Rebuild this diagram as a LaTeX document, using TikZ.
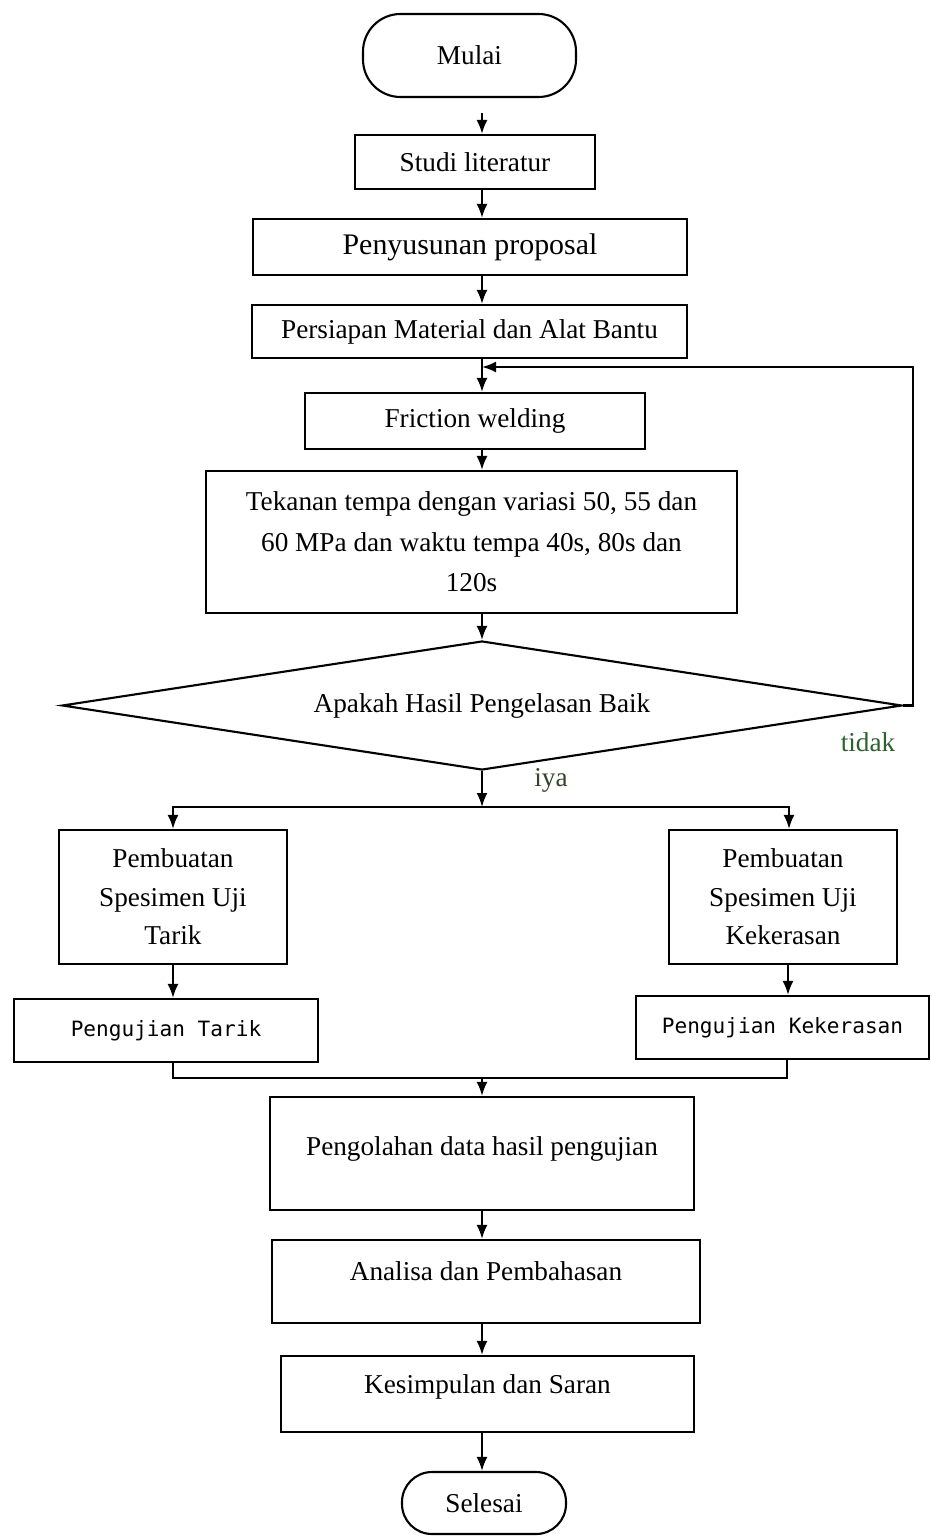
\documentclass[tikz,border=0pt]{standalone}
\usepackage{fontspec}
\setmainfont{Liberation Serif}
\newfontfamily\monofont{DejaVu Sans Mono}
\usetikzlibrary{arrows.meta, shapes.geometric}

\definecolor{hijautua}{rgb}{0.18,0.38,0.18}
\definecolor{hijaugelap}{rgb}{0.2,0.27,0.15}

\begin{document}
\begin{tikzpicture}[
  kotak/.style={rectangle, draw, line width=1.2pt, align=center, inner sep=2pt, font=\fontsize{15.5}{23}\selectfont},
  kotakmono/.style={kotak, font=\monofont\fontsize{12}{14}\selectfont},
  arr/.style={line width=1.2pt, -{Latex[length=0.28cm, width=0.22cm]}},
  garis/.style={line width=1.2pt},
  ket/.style={font=\fontsize{15.5}{18}\selectfont}]
\useasboundingbox (0,0) rectangle (18.62,-30.72);

\node[kotak, rounded corners=0.75cm, minimum width=4.26cm, minimum height=1.66cm] (mulai) at (9.39,-1.11) {Mulai};
\node[kotak, minimum width=4.8cm, minimum height=1.08cm] (studi) at (9.5,-3.24) {Studi literatur};
\node[kotak, minimum width=8.68cm, minimum height=1.12cm, font=\fontsize{17}{20}\selectfont] (proposal) at (9.4,-4.94) {Penyusunan proposal};
\node[kotak, minimum width=8.7cm, minimum height=1.06cm] (persiapan) at (9.39,-6.63) {Persiapan Material dan Alat Bantu};
\node[kotak, minimum width=6.8cm, minimum height=1.12cm] (friction) at (9.5,-8.42) {Friction welding};
\node[kotak, minimum width=10.62cm, minimum height=2.84cm] (tekanan) at (9.43,-10.84) {Tekanan tempa dengan variasi 50, 55 dan\\60 MPa dan waktu tempa 40s, 80s dan\\120s};
\node[kotak, diamond, shape aspect=6.5, inner sep=0pt, minimum width=16.8cm, minimum height=2.58cm] (cek) at (9.64,-14.11) {Apakah Hasil Pengelasan Baik};
\node[ket, text=hijautua] (tidak) at (17.36,-14.84) {tidak};
\node[ket, text=hijaugelap] (iya) at (11.02,-15.6) {iya};

\node[kotak, font=\fontsize{15.5}{21.9}\selectfont, minimum width=4.56cm, minimum height=2.68cm] (buattarik) at (3.46,-17.94) {Pembuatan\\Spesimen Uji\\Tarik};
\node[kotak, font=\fontsize{15.5}{21.9}\selectfont, minimum width=4.56cm, minimum height=2.68cm] (buatkeras) at (15.66,-17.94) {Pembuatan\\Spesimen Uji\\Kekerasan};
\node[kotakmono, minimum width=6.08cm, minimum height=1.26cm] (ujitarik) at (3.32,-20.61) {Pengujian Tarik};
\node[kotakmono, minimum width=5.86cm, minimum height=1.26cm] (ujikeras) at (15.65,-20.55) {Pengujian Kekerasan};

\node[kotak, text depth=0.3cm, minimum width=8.48cm, minimum height=2.26cm] (olah) at (9.64,-23.07) {Pengolahan data hasil pengujian};
\node[kotak, text depth=0.42cm, minimum width=8.56cm, minimum height=1.66cm] (analisa) at (9.72,-25.63) {Analisa dan Pembahasan};
\node[kotak, text depth=0.38cm, minimum width=8.26cm, minimum height=1.52cm] (simpul) at (9.75,-27.88) {Kesimpulan dan Saran};
\node[kotak, rounded corners=0.6cm, minimum width=3.28cm, minimum height=1.24cm] (selesai) at (9.68,-30.06) {Selesai};

\coordinate (pojok) at (18.26,-7.34);
\coordinate (cabang) at (9.64,-16.14);
\coordinate (gabung) at (9.64,-21.56);

\draw[arr] ([yshift=-0.3cm]mulai.south -| cek) -- (studi.north -| cek);
\draw[arr] (studi.south -| cek) -- (proposal.north -| cek);
\draw[arr] (proposal.south -| cek) -- (persiapan.north -| cek);
\draw[arr] (persiapan.south -| cek) -- (friction.north -| cek);
\draw[arr] (friction.south -| cek) -- (tekanan.north -| cek);
\draw[arr] (tekanan.south -| cek) -- (cek.north);
\draw[arr] (cek.east) -| (pojok) -- (pojok -| cek);
\draw[arr] (cek.south) -- (cabang);
\draw[arr] (cabang) -| (buattarik.north);
\draw[arr] (cabang) -| ([xshift=0.12cm]buatkeras.north);
\draw[arr] (buattarik.south) -- (buattarik.south |- ujitarik.north);
\draw[arr] ([xshift=0.1cm]buatkeras.south) -- ([xshift=0.1cm]buatkeras.south |- ujikeras.north);
\draw[garis] (buattarik.south |- ujitarik.south) |- (gabung) -| ([xshift=0.08cm]buatkeras.south |- ujikeras.south);
\draw[arr] (gabung) -- (olah.north);
\draw[arr] (olah.south) -- (olah.south |- analisa.north);
\draw[arr] (analisa.south -| olah) -- (simpul.north -| olah);
\draw[arr] (simpul.south -| olah) -- (selesai.north -| olah);
\end{tikzpicture}
\end{document}
